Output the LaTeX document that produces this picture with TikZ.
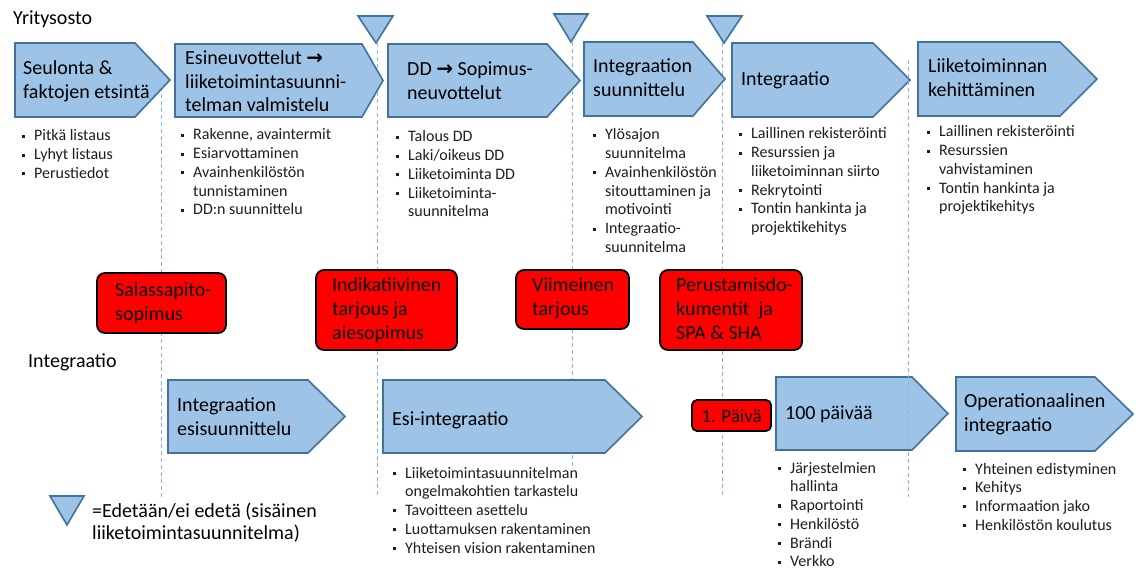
\documentclass[tikz,border=0pt]{standalone}
\usepackage{fontspec}
\setmainfont{Carlito}
\newfontfamily\symfont{DejaVu Sans}

% bullet lists: a small square, then the item text
\newcommand\bul{\makebox[12pt][l]{\rule[3pt]{3pt}{3pt}}}
\newcommand\ind{\hspace*{12pt}}
\newcommand\lines[1]{\begin{tabular}[t]{@{}l@{}}#1\end{tabular}}
\newcommand\arr{{\symfont\bfseries →}}
% a process chevron: left x, top y, shoulder x, tip x, bottom y
\newcommand\chevshape[5]{\draw[chev] (#1,#2) -- (#3,#2) -- (#4,{(#2+#5)/2}) -- (#3,#5) -- (#1,#5) -- cycle;}

\definecolor{chevfill}{RGB}{157,195,230}
\definecolor{chevline}{RGB}{65,113,156}
\definecolor{guideblue}{RGB}{135,180,225}
\definecolor{listgrey}{RGB}{30,30,30}

\begin{document}
\begin{tikzpicture}[x=1pt,y=-1pt,
  chev/.style={fill=chevfill, draw=chevline, line width=1.6pt, line join=miter},
  gate/.style={fill=chevfill, draw=chevline, line width=1.6pt, line join=miter},
  guide/.style={draw=guideblue, line width=0.9pt, dash pattern=on 4pt off 3pt},
  redbox/.style={fill=red, draw=black, line width=1.8pt, rounded corners=8pt},
  ctext/.style={anchor=base west, inner sep=0pt, font=\fontsize{20}{23.5}\selectfont},
  rtext/.style={anchor=base west, inner sep=0pt, font=\fontsize{20}{24}\selectfont},
  ltext/.style={anchor=base west, inner sep=0pt, text=listgrey, font=\fontsize{16}{18.75}\selectfont},
  heading/.style={anchor=base west, inner sep=0pt, font=\fontsize{20}{22}\selectfont}]
\useasboundingbox (0,0) rectangle (1136,569);
\fill[white] (0,0) rectangle (1136,569);

% phase separators
\draw[guide] (161,80) -- (161,497);
\draw[guide] (377,43) -- (377,497);
\draw[guide] (572,42) -- (572,467);
\draw[guide] (722,43) -- (722,497);

% acquisition phases
\chevshape{15}{43}{135}{170}{117}
\chevshape{175}{44}{362}{383}{117}
\chevshape{388}{44}{547}{580}{117}
\chevshape{584}{42}{693}{725}{116}
\chevshape{732}{43}{873}{910}{117}
\chevshape{918}{42}{1060}{1097}{116}

% integration phases
\chevshape{168}{380}{308}{345}{453}
\chevshape{383}{380}{605}{642}{453}
\chevshape{776}{377}{912}{948}{450}
\chevshape{956}{377}{1095}{1133}{451}

% go / no-go gates
\draw[gate] (358,16) -- (393,16) -- (376,43) -- cycle;
\draw[gate] (554,14) -- (588,14) -- (571,42) -- cycle;
\draw[gate] (707,16) -- (742,16) -- (724,43) -- cycle;
\draw[gate] (50,496) -- (84,496) -- (67,525) -- cycle;

\draw[guide] (908,60) -- (908,497);

% contract milestones
\draw[redbox] (97,273) rectangle (226,333);
\draw[redbox] (316,270) rectangle (457,350);
\draw[redbox] (516,270) rectangle (629,329);
\draw[redbox] (660,270) rectangle (802,350);
\draw[redbox, rounded corners=5pt] (692,400) rectangle (771,431);

% row headings and legend
\node[heading] (hdA) at (13,25) {Yritysosto};
\node[heading] (hdB) at (28,368) {Integraatio};
\node[heading] (legend) at (92,517) {\lines{=Edetään/ei edetä (sisäinen\\liiketoimintasuunnitelma)}};

% phase titles
\node[ctext] (c1) at (23,75) {\lines{Seulonta \&\\faktojen etsintä}};
\node[ctext] (c2) at (185,65) {\lines{Esineuvottelut \arr\\liiketoimintasuunni-\\telman valmistelu}};
\node[ctext] (c3) at (407,76) {\lines{DD \arr{} Sopimus-\\neuvottelut}};
\node[ctext] (c4) at (593,73) {\lines{Integraation\\suunnittelu}};
\node[ctext] (c5) at (741,86) {Integraatio};
\node[ctext] (c6) at (928,73) {\lines{Liiketoiminnan\\kehittäminen}};
\node[ctext] (b1) at (177,412) {\lines{Integraation\\esisuunnittelu}};
\node[ctext] (b2) at (392,425) {Esi-integraatio};
\node[ctext] (b3) at (785,420) {100 päivää};
\node[ctext] (b4) at (964,408) {\lines{Operationaalinen\\integraatio}};

% milestone texts
\node[rtext] (r1) at (115,297) {\lines{Salassapito-\\sopimus}};
\node[rtext] (r2) at (332,292) {\lines{Indikatiivinen\\tarjous ja\\aiesopimus}};
\node[rtext] (r3) at (532,292) {\lines{Viimeinen\\tarjous}};
\node[rtext] (r4) at (676,292) {\lines{Perustamisdo-\\kumentit\ \ ja\\SPA \& SHA}};
\node[rtext, anchor=center, font=\fontsize{19}{22}\selectfont] (r5) at (731.5,416) {1. Päivä};

% task lists
\node[ltext] (l1) at (22,141) {\lines{\bul Pitkä listaus\\\bul Lyhyt listaus\\\bul Perustiedot}};
\node[ltext] (l2) at (181,140) {\lines{\bul Rakenne, avaintermit\\\bul Esiarvottaminen\\\bul Avainhenkilöstön\\\ind tunnistaminen\\\bul DD:n suunnittelu}};
\node[ltext] (l3) at (396,142) {\lines{\bul Talous DD\\\bul Laki/oikeus DD\\\bul Liiketoiminta DD\\\bul Liiketoiminta-\\\ind suunnitelma}};
\node[ltext] (l4) at (593,140) {\lines{\bul Ylösajon\\\ind suunnitelma\\\bul Avainhenkilöstön\\\ind sitouttaminen ja\\\ind motivointi\\\bul Integraatio-\\\ind suunnitelma}};
\node[ltext] (l5) at (739,139) {\lines{\bul Laillinen rekisteröinti\\\bul Resurssien ja\\\ind liiketoiminnan siirto\\\bul Rekrytointi\\\bul Tontin hankinta ja\\\ind projektikehitys}};
\node[ltext] (l6) at (927,137) {\lines{\bul Laillinen rekisteröinti\\\bul Resurssien\\\ind vahvistaminen\\\bul Tontin hankinta ja\\\ind projektikehitys}};
\node[ltext] (l7) at (393,478) {\lines{\bul Liiketoimintasuunnitelman\\\ind ongelmakohtien tarkastelu\\\bul Tavoitteen asettelu\\\bul Luottamuksen rakentaminen\\\bul Yhteisen vision rakentaminen}};
\node[ltext] (l8) at (778,473) {\lines{\bul Järjestelmien\\\ind hallinta\\\bul Raportointi\\\bul Henkilöstö\\\bul Brändi\\\bul Verkko}};
\node[ltext] (l9) at (963,474) {\lines{\bul Yhteinen edistyminen\\\bul Kehitys\\\bul Informaation jako\\\bul Henkilöstön koulutus}};
\end{tikzpicture}
\end{document}
